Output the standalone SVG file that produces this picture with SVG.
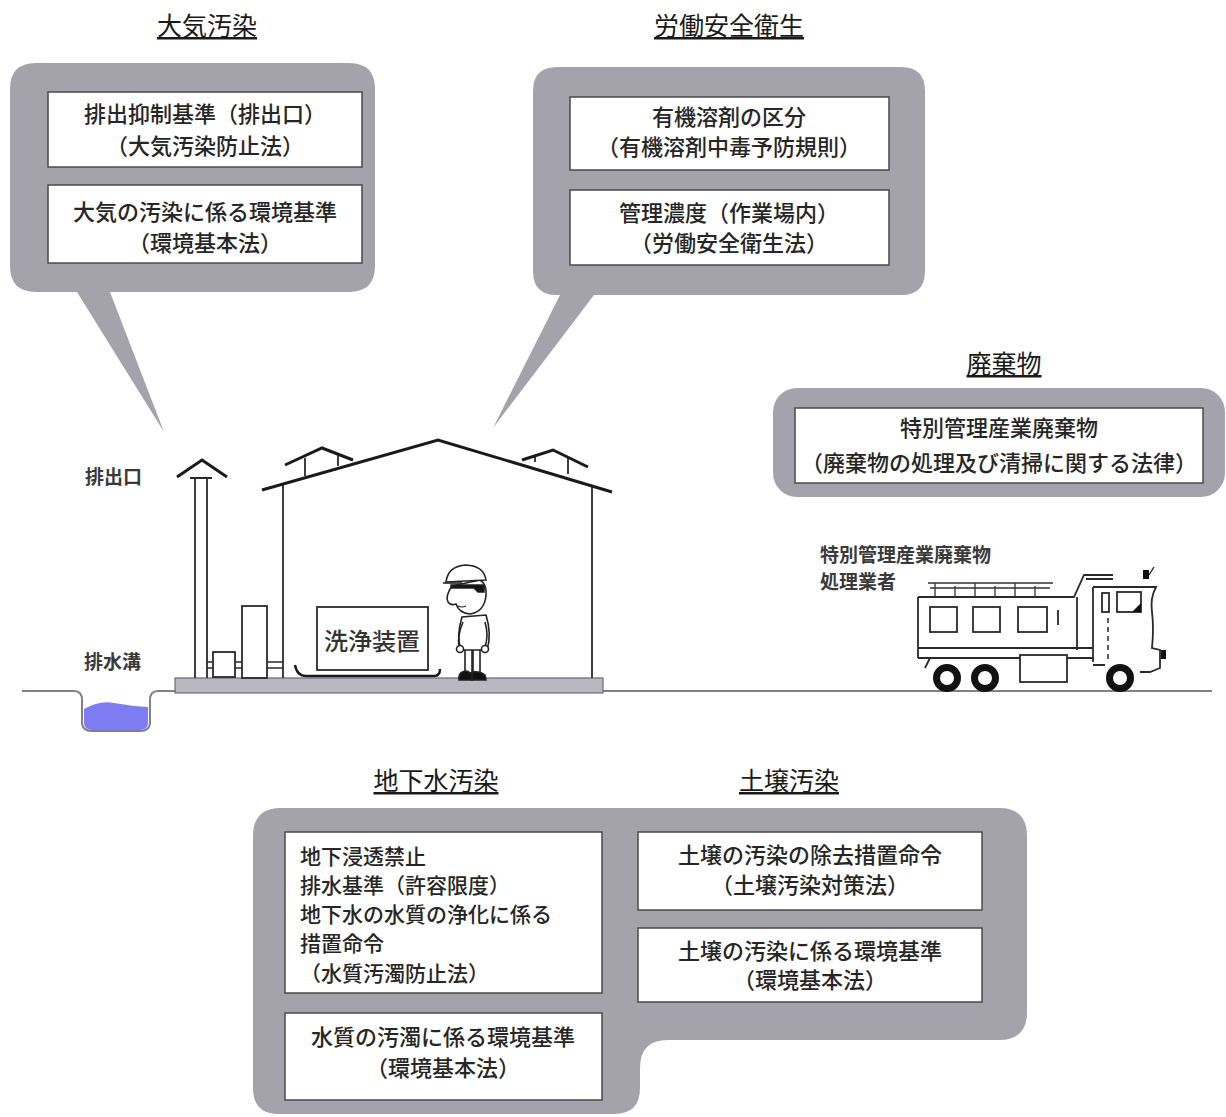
<svg xmlns="http://www.w3.org/2000/svg" width="1226" height="1117" viewBox="0 0 1226 1117">
  <style>
    .title { font-family: "Noto Sans CJK JP", "Liberation Sans", sans-serif; font-size: 25px; fill: #1a1a1a; text-anchor: middle; text-decoration: underline; }
    .panel { fill: #a4a3ab; }
    .box { fill: #ffffff; stroke: #4a4a4a; stroke-width: 1.5; }
    .txt { font-family: "Noto Sans CJK JP", "Liberation Sans", sans-serif; font-size: 22px; font-weight: 500; fill: #262626; text-anchor: middle; }
    .txtl { font-family: "Noto Sans CJK JP", "Liberation Sans", sans-serif; font-size: 21px; font-weight: 500; fill: #262626; }
    .lbl { font-family: "Noto Sans CJK JP", "Liberation Sans", sans-serif; font-size: 19px; font-weight: bold; fill: #3a3a3a; }
    .ln { fill: none; stroke: #2a2a2a; stroke-width: 1.8; }
    .thick { fill: none; stroke: #1a1a1a; stroke-width: 3; }
  </style>
  <rect width="1226" height="1117" fill="#ffffff"/>

  <!-- Section headings -->
  <g id="headings">
    <text class="title" x="207" y="35">大気汚染</text>
    <text class="title" x="729" y="35">労働安全衛生</text>
    <text class="title" x="1004" y="373">廃棄物</text>
    <text class="title" x="436" y="790">地下水汚染</text>
    <text class="title" x="789" y="790">土壌汚染</text>
  </g>

  <!-- Air pollution callout -->
  <g id="air">
    <path class="panel" d="M36,63 H349 Q375,63 375,89 V266 Q375,292 349,292 H110 L164,432 L77,292 H36 Q10,292 10,266 V89 Q10,63 36,63 Z"/>
    <rect class="box" x="48" y="92" width="314" height="75"/>
    <text class="txt" x="205" y="122">排出抑制基準（排出口）</text>
    <text class="txt" x="205" y="154">（大気汚染防止法）</text>
    <rect class="box" x="48" y="185" width="314" height="78"/>
    <text class="txt" x="205" y="220">大気の汚染に係る環境基準</text>
    <text class="txt" x="205" y="251">（環境基本法）</text>
  </g>

  <!-- Occupational safety callout -->
  <g id="safety">
    <path class="panel" d="M557,67 H901 Q925,67 925,91 V271 Q925,295 901,295 H594 L493,428 L560,295 H557 Q533,295 533,271 V91 Q533,67 557,67 Z"/>
    <rect class="box" x="570" y="97" width="319" height="73"/>
    <text class="txt" x="729" y="125">有機溶剤の区分</text>
    <text class="txt" x="729" y="155">（有機溶剤中毒予防規則）</text>
    <rect class="box" x="570" y="190" width="319" height="75"/>
    <text class="txt" x="729" y="221">管理濃度（作業場内）</text>
    <text class="txt" x="729" y="251">（労働安全衛生法）</text>
  </g>

  <!-- Waste callout -->
  <g id="waste">
    <rect class="panel" x="773" y="388" width="452" height="109" rx="24"/>
    <rect class="box" x="795" y="408" width="408" height="75"/>
    <text class="txt" x="999" y="436">特別管理産業廃棄物</text>
    <text class="txt" x="999" y="471">（廃棄物の処理及び清掃に関する法律）</text>
  </g>

  <!-- Groundwater and soil panel -->
  <g id="ground-soil">
    <path class="panel" d="M281,808 H999 Q1027,808 1027,836 V1012 Q1027,1040 999,1040 H668 Q640,1040 640,1068 V1088 Q640,1114 614,1114 H279 Q253,1114 253,1088 V836 Q253,808 281,808 Z"/>
    <rect class="box" x="285" y="832" width="317" height="161"/>
    <text class="txtl" x="300" y="864">地下浸透禁止</text>
    <text class="txtl" x="300" y="893">排水基準（許容限度）</text>
    <text class="txtl" x="300" y="922">地下水の水質の浄化に係る</text>
    <text class="txtl" x="300" y="951">措置命令</text>
    <text class="txtl" x="300" y="981">（水質汚濁防止法）</text>
    <rect class="box" x="285" y="1013" width="317" height="87"/>
    <text class="txt" x="443" y="1045">水質の汚濁に係る環境基準</text>
    <text class="txt" x="443" y="1076">（環境基本法）</text>
    <rect class="box" x="638" y="832" width="344" height="78"/>
    <text class="txt" x="810" y="863">土壌の汚染の除去措置命令</text>
    <text class="txt" x="810" y="893">（土壌汚染対策法）</text>
    <rect class="box" x="638" y="928" width="344" height="74"/>
    <text class="txt" x="810" y="959">土壌の汚染に係る環境基準</text>
    <text class="txt" x="810" y="988">（環境基本法）</text>
  </g>

  <!-- Ground line and drainage ditch -->
  <g id="ditch">
    <path d="M84,709 Q100,700 114,703 Q130,706 148,707 V722 Q148,730 140,730 H92 Q84,730 84,722 Z" fill="#7d7cf2"/>
    <path d="M22,691 H74 Q82,691 82,700 V722 Q82,731 92,731 H140 Q150,731 150,722 V700 Q150,691 158,691 H1212" fill="none" stroke="#7f7f8e" stroke-width="2"/>
    <text class="lbl" x="84" y="669">排水溝</text>
  </g>

  <!-- Factory building -->
  <g id="factory">
    <rect x="175" y="678" width="428" height="15" fill="#b9b8c0" stroke="#6a6a72" stroke-width="1.2"/>
    <!-- exhaust stack -->
    <path class="ln" d="M195,678 V478 M207,678 V478 M190,478 H212"/>
    <path class="thick" d="M177,477 L202,460 L227,477"/>
    <text class="lbl" x="85" y="484">排出口</text>
    <!-- walls and roof -->
    <path class="ln" d="M283,484 V678 M592,485 V678"/>
    <path class="thick" d="M262,490 L438,440 L612,492"/>
    <!-- roof vents -->
    <path class="ln" d="M305,458 V476 M338,455 V466 M535,455 V462 M568,457 V474"/>
    <path class="thick" d="M285,465 L322,448 L353,460"/>
    <path class="thick" d="M522,460 L553,450 L588,467"/>
    <!-- equipment and piping -->
    <rect class="ln" x="242" y="606" width="25" height="72" fill="#fff"/>
    <rect class="ln" x="213" y="652" width="22" height="25" fill="#fff"/>
    <path d="M207,662 H213 M207,668 H213 M235,662 H242 M235,668 H242 M267,662 H283 M267,668 H283" fill="none" stroke="#2a2a2a" stroke-width="1.4"/>
    <!-- washing unit -->
    <rect class="ln" x="317" y="607" width="111" height="63" fill="#fff"/>
    <text x="372" y="650" font-family="Noto Sans CJK JP, sans-serif" font-size="24" font-weight="500" fill="#333" text-anchor="middle">洗浄装置</text>
    <path d="M295,665 Q297,676 306,676 H434 Q440,676 440,669" fill="none" stroke="#1a1a1a" stroke-width="2.4"/>
  </g>

  <!-- Worker -->
  <g id="worker" stroke="#222" stroke-width="1.6" fill="#fff">
    <rect x="465" y="645" width="7" height="28"/>
    <rect x="473" y="645" width="7" height="28"/>
    <path d="M462,617 Q456,636 461,650 H487 Q492,634 486,615 Z"/>
    <path d="M463,622 Q457,636 459,647" fill="none"/>
    <path d="M485,622 Q489,636 485,647" fill="none"/>
    <circle cx="460" cy="649" r="3.5"/>
    <circle cx="485" cy="649" r="3.5"/>
    <path d="M452,586 Q445,596 448,602 Q451,606 456,604 Q459,613 470,614 Q484,612 486,596 Q487,584 480,580 Z"/>
    <path d="M458,606 Q462,608 466,606" fill="none" stroke-width="1.2"/>
    <path d="M446,582 Q448,566 466,565 Q484,566 486,580 Z"/>
    <path d="M443,583 H462" fill="none"/>
    <path d="M451,585 H484 V592 H478 L474,588 H451 Z" fill="#111"/>
    <path d="M459,680 Q458,671 467,671 L472,674 V680 Z" fill="#111"/>
    <path d="M472,680 V672 Q480,671 485,675 L486,680 Z" fill="#111"/>
  </g>

  <!-- Waste collection truck -->
  <g id="truck">
    <text class="lbl" x="820" y="562">特別管理産業廃棄物</text>
    <text class="lbl" x="820" y="589">処理業者</text>
    <!-- top rail -->
    <path d="M928,583 H1053 M930,588 H1050 M935,583 V596 M955,586 V596 M975,583 V596 M995,586 V596 M1015,583 V596 M1035,586 V596" fill="none" stroke="#333" stroke-width="1.3"/>
    <!-- dump body -->
    <path class="ln" d="M918,597 H1074 L1084,575 H1113 M1086,579 H1113 M918,597 V658 M1077,597 V650"/>
    <path class="ln" d="M918,648 H1093 M918,658 H1020 M1067,658 H1093 M930,658 L925,668 M1093,665 H1105"/>
    <rect class="ln" x="930" y="607" width="27" height="25"/>
    <rect class="ln" x="973" y="607" width="27" height="25"/>
    <rect class="ln" x="1018" y="607" width="29" height="25"/>
    <path class="ln" d="M1058,610 V625"/>
    <rect class="ln" x="1020" y="655" width="47" height="27" fill="#fff"/>
    <!-- cab -->
    <path class="ln" d="M1093,587 H1156 Q1150,598 1152,612 Q1154,628 1152,648 L1160,650 V668 L1150,672 H1140 M1093,587 V662"/>
    <rect x="1161" y="650" width="5" height="9" fill="#111"/>
    <rect x="1143" y="570" width="6" height="9" fill="#111"/>
    <path d="M1149,575 L1154,567" fill="none" stroke="#222" stroke-width="1.4"/>
    <rect class="ln" x="1102" y="593" width="7" height="19"/>
    <rect class="ln" x="1117" y="592" width="24" height="20"/>
    <path d="M1141,603 V612 H1132 Z" fill="#111"/>
    <path d="M1108,618 V662" fill="none" stroke="#333" stroke-width="1.6" stroke-dasharray="5 4"/>
    <!-- wheels -->
    <circle cx="947" cy="678" r="10.5" fill="#fff" stroke="#111" stroke-width="7"/>
    <circle cx="985" cy="678" r="10.5" fill="#fff" stroke="#111" stroke-width="7"/>
    <circle cx="1120" cy="678" r="10.5" fill="#fff" stroke="#111" stroke-width="7"/>
  </g>
</svg>
